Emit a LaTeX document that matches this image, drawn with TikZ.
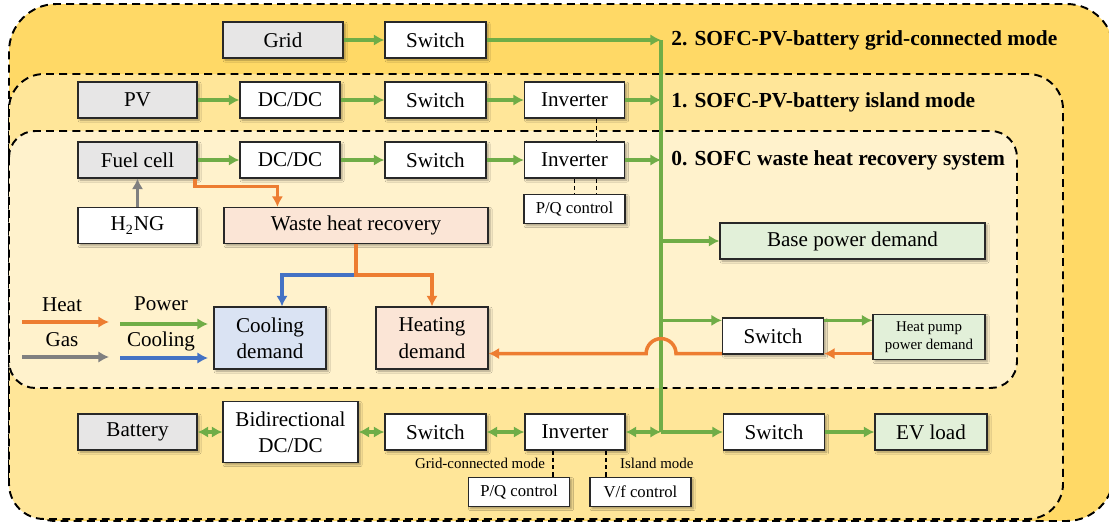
\documentclass[tikz,border=0pt]{standalone}
\usepackage{fontspec}
\setmainfont{Liberation Serif}
\usepackage{tikz}
\usetikzlibrary{arrows.meta,calc,shadows.blur}
\definecolor{figline}{RGB}{40,40,40}
\definecolor{figbox}{RGB}{231,230,230}
\definecolor{figpeach}{RGB}{251,229,214}
\definecolor{figice}{RGB}{218,227,243}
\definecolor{figmint}{RGB}{226,240,217}
\definecolor{figgreen}{RGB}{112,173,71}
\definecolor{figorange}{RGB}{237,125,49}
\definecolor{figblue}{RGB}{68,114,196}
\definecolor{figgas}{RGB}{128,128,128}
\definecolor{zonetwo}{RGB}{255,217,102}
\definecolor{zoneone}{RGB}{255,230,153}
\definecolor{zonezero}{RGB}{255,242,204}
\tikzset{
  zone/.style ={draw=black, line width=1.1pt, dash pattern=on 4.5pt off 3pt},
  blk/.style  ={draw=figline, line width=0.7pt, fill=white, inner sep=1pt, align=center,
                minimum height=0.72cm, font=\fontsize{12}{15}\selectfont,
                blur shadow={shadow xshift=1.2pt, shadow yshift=-1.2pt, shadow blur radius=1.2pt, shadow opacity=35}},
  gry/.style  ={blk, fill=figbox},
  ctlbox/.style ={blk, minimum height=0.58cm, minimum width=2.02cm, font=\fontsize{9.5}{11}\selectfont},
  ttl/.style  ={anchor=west, inner sep=0pt, font=\fontsize{12.2}{14}\selectfont\bfseries},
  sml/.style  ={inner sep=1pt, font=\fontsize{8.5}{10}\selectfont},
  lgd/.style  ={inner sep=1pt, font=\fontsize{12}{14}\selectfont},
  tip/.style  ={-{Latex[length=6pt,width=6.5pt]}},
  pwr/.style  ={draw=figgreen, line width=2pt, tip},
  pwrb/.style ={draw=figgreen, line width=2pt, {Latex[length=6pt,width=6.5pt]}-{Latex[length=6pt,width=6.5pt]}},
  bus/.style  ={draw=figgreen, line width=2pt},
  hot/.style  ={draw=figorange, line width=2pt, tip},
  cld/.style  ={draw=figblue, line width=2pt, tip},
  gasln/.style={draw=figgas, line width=2pt, tip},
  ctl/.style  ={draw=black, line width=0.8pt, dash pattern=on 2.5pt off 1.6pt},
}

\begin{document}
\begin{tikzpicture}[x=0.02cm, y=-0.02cm]
  \useasboundingbox (0,0) rectangle (1109,524);
  \clip (0,0) rectangle (1109,524);
  % operating modes
  \draw[zone, fill=zonetwo, rounded corners=27pt] (9,4) rectangle (1114,521);
  \draw[zone, fill=zoneone, rounded corners=20pt] (9,74) rectangle (1063,519);
  \draw[zone, fill=zonezero, rounded corners=15pt] (9,131) rectangle (1017,388);

  \node[ttl] (t2) at (671,40) {2. SOFC-PV-battery grid-connected mode};
  \node[ttl] (t1) at (671,102) {1. SOFC-PV-battery island mode};
  \node[ttl] (t0) at (671,160) {0. SOFC waste heat recovery system};

  \coordinate (busT) at (661,40);
  \coordinate (busB) at (661,432);

  % grid row
  \node[gry, minimum width=2.4cm] (grid) at (283,40) {Grid};
  \node[blk, minimum width=2.02cm] (swg) at (435.5,40) {Switch};

  % PV row
  \node[gry, minimum width=2.38cm] (pv) at (137.5,100) {PV};
  \node[blk, minimum width=2cm] (dcpv) at (290,100) {DC/DC};
  \node[blk, minimum width=2.02cm] (swpv) at (435.5,100) {Switch};
  \node[blk, minimum width=2cm] (invpv) at (574.5,100) {Inverter};

  % fuel cell row
  \node[gry, minimum width=2.38cm] (fc) at (137.5,160) {Fuel cell};
  \node[blk, minimum width=2cm] (dcfc) at (290,160) {DC/DC};
  \node[blk, minimum width=2.02cm] (swfc) at (435.5,160) {Switch};
  \node[blk, minimum width=2cm] (invfc) at (574.5,160) {Inverter};
  \node[ctlbox] (pqfc) at (574.5,209) {P/Q control};

  \node[blk, minimum width=2.38cm] (h2ng) at (137.5,225.5) {H\textsubscript{2}NG};
  \node[blk, minimum width=5.28cm, fill=figpeach] (whr) at (356,225.5) {Waste heat recovery};
  \node[blk, minimum width=2.24cm, minimum height=1.24cm, fill=figice] (cool) at (270,338) {Cooling\\demand};
  \node[blk, minimum width=2.24cm, minimum height=1.24cm, fill=figpeach] (heatd) at (432,338) {Heating\\demand};

  \node[blk, minimum width=5.3cm, fill=figmint] (base) at (852.5,241) {Base power demand};
  \node[blk, minimum width=2.02cm] (swhp) at (773,336) {Switch};
  \node[blk, minimum width=2.24cm, minimum height=0.9cm, fill=figmint,
        font=\fontsize{8.5}{10.5}\selectfont] (hpd) at (929,337) {Heat pump\\power demand};

  % battery row
  \node[gry, minimum width=2.38cm] (bat) at (137.5,432) {Battery};
  \node[blk, minimum width=2.7cm, minimum height=1.22cm] (bdc) at (290.5,432) {Bidirectional\\DC/DC};
  \node[blk, minimum width=2.02cm] (swbat) at (435.5,432) {Switch};
  \node[blk, minimum width=2cm] (invbat) at (575,432) {Inverter};
  \node[ctlbox] (pqbat) at (519,492) {P/Q control};
  \node[ctlbox] (vfbat) at (640.5,492) {V/f control};
  \node[blk, minimum width=2.02cm] (swev) at (774,432) {Switch};
  \node[blk, minimum width=2.24cm, fill=figmint] (ev) at (931,432) {EV load};

  % AC bus and power flow
  \draw[bus] (busT) -- (busB);
  \draw[pwr] (grid) -- (swg);
  \draw[pwr] (swg) -- (busT);
  \draw[pwr] (pv) -- (dcpv);
  \draw[pwr] (dcpv) -- (swpv);
  \draw[pwr] (swpv) -- (invpv);
  \draw[pwr] (invpv) -- (invpv -| busT);
  \draw[pwr] (fc) -- (dcfc);
  \draw[pwr] (dcfc) -- (swfc);
  \draw[pwr] (swfc) -- (invfc);
  \draw[pwr] (invfc) -- (invfc -| busT);
  \draw[pwr] (base -| busT) -- (base);
  \coordinate (hpin) at ([yshift=-1.7pt]swhp.north west);
  \coordinate (hpret) at ([yshift=0.6pt]swhp.south west);
  \draw[pwr] (hpin -| busT) -- (hpin);
  \draw[pwr] (hpin -| swhp.east) -- (hpin -| hpd.west);
  \draw[hot] (hpret -| hpd.west) -- (hpret -| swhp.east);
  \draw[hot] (hpret) -- ($(hpret -| busT)+(15,0)$)
    arc[start angle=0, end angle=180, radius=8.5pt] -- (hpret -| heatd.east);
  \draw[pwrb] (bat) -- (bdc);
  \draw[pwrb] (bdc) -- (swbat);
  \draw[pwrb] (swbat) -- (invbat);
  \draw[pwrb] (invbat) -- (busB);
  \draw[pwr] (busB) -- (swev);
  \draw[pwr] (swev) -- (ev);

  % gas and heat
  \draw[gasln] (h2ng) -- (fc);
  \draw[hot] ([xshift=-1.5pt]fc.south east) -- ++(0,8) -| ($(whr.north west)+(54,0)$);
  \draw[cld] ($(whr.south)+(0,31)$) -| ($(cool.north)+(12,0)$);
  \draw[hot] (whr.south) -- ++(0,31) -| (heatd.north);

  % inverter control
  \draw[ctl] ($(invpv.south)+(22,0)$) -- ($(invfc.north)+(22,0)$);
  \draw[ctl] (invfc.south) -- (pqfc.north);
  \draw[ctl] ($(invfc.south)+(22,0)$) -- ($(pqfc.north)+(22,0)$);
  \coordinate (gcm) at ($(invbat.south)+(-22,0)$);
  \coordinate (isl) at ($(invbat.south)+(31,0)$);
  \draw[ctl] (gcm) -- (gcm |- pqbat.north);
  \draw[ctl] (isl) -- (isl |- vfbat.north);
  \node[sml, anchor=east] (gclab) at (547,463) {Grid-connected mode};
  \node[sml, anchor=west] (islab) at (618,463) {Island mode};

  % legend
  \coordinate (lgheat) at (22,322);
  \coordinate (lggas) at (22,357);
  \coordinate (lgpwr) at (120,324);
  \coordinate (lgcold) at (120,358);
  \draw[hot] (lgheat) -- ++(87,0);
  \draw[gasln] (lggas) -- ++(87,0);
  \draw[pwr] (lgpwr) -- ++(88,0);
  \draw[cld] (lgcold) -- ++(88,0);
  \node[lgd] (lheat) at (62,305) {Heat};
  \node[lgd] (lgas) at (62,340) {Gas};
  \node[lgd] (lpwr) at (161,304) {Power};
  \node[lgd] (lcold) at (161,341) {Cooling};
\end{tikzpicture}
\end{document}
